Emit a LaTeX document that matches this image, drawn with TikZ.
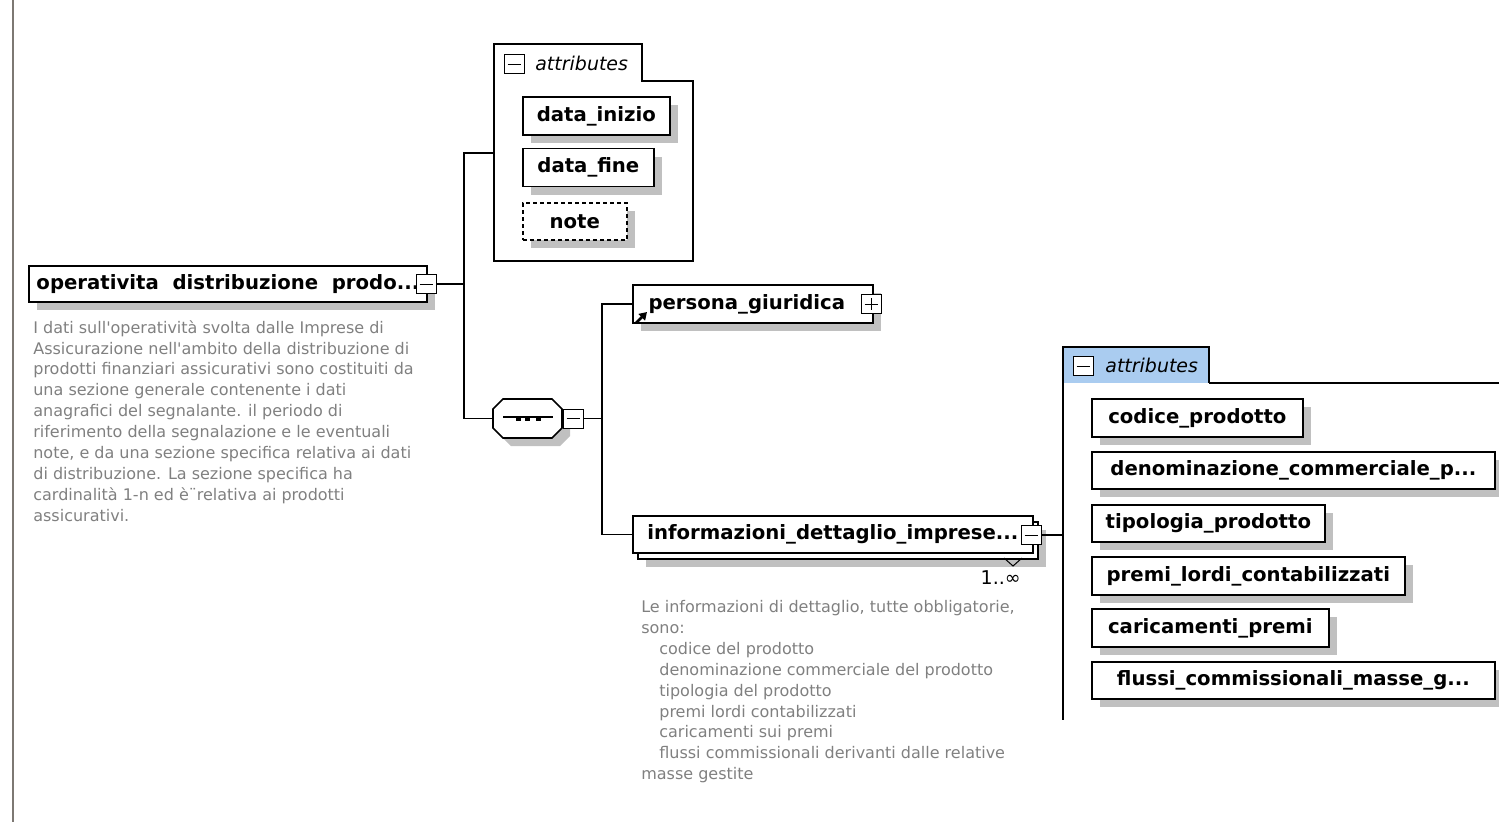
\documentclass[tikz,border=0pt]{standalone}
\usepackage{fontspec}
\setmainfont{DejaVu Sans}
\usetikzlibrary{shadows,arrows.meta}
\definecolor{tabblue}{RGB}{170,204,240}
\definecolor{docgray}{RGB}{128,128,128}
\definecolor{shadowgray}{RGB}{192,192,192}
\definecolor{rulegray}{RGB}{125,120,115}
\newcommand{\lblfont}{\fontsize{11.2}{13}\selectfont\bfseries}
\newcommand{\docfont}{\fontsize{9.1}{11.9}\selectfont}
\tikzset{
  conn/.style={line width=0.34mm},
  elbox/.style={draw, line width=0.34mm, fill=white, inner sep=0pt,
    minimum height=7.6mm, font=\lblfont,
    drop shadow={shadow xshift=1.6mm, shadow yshift=-1.6mm, fill=shadowgray, opacity=1}},
  optbox/.style={elbox, dash pattern=on 0.8mm off 0.6mm},
  expbox/.style={draw, line width=0.2mm, fill=white, minimum width=4mm,
    minimum height=3.8mm, inner sep=0pt},
  minusbox/.style={expbox, path picture={
    \draw[line width=0.2mm] ([xshift=0.7mm]path picture bounding box.west)
      -- ([xshift=-0.7mm]path picture bounding box.east);}},
  plusbox/.style={expbox, path picture={
    \draw[line width=0.2mm] ([xshift=0.7mm]path picture bounding box.west)
      -- ([xshift=-0.7mm]path picture bounding box.east);
    \draw[line width=0.2mm] ([yshift=-0.7mm]path picture bounding box.north)
      -- ([yshift=0.7mm]path picture bounding box.south);}},
  tablabel/.style={anchor=west, inner sep=0pt, font=\fontsize{10.8}{13}\selectfont\itshape},
  docnode/.style={text=docgray, font=\docfont, align=left, anchor=north west, inner sep=0pt},
}

\begin{document}
\begin{tikzpicture}[x=0.2mm,y=-0.2mm]
\useasboundingbox (0,0) rectangle (1499,822);
%%%%%%%%%%%%%%%%%%Left Margin Rule%%%%%%%%%%%%%%%%%%
\draw[rulegray, line width=0.4mm] (13,0) -- (13,822);

%%%%%%%%%%%%%%%%%%Root Element%%%%%%%%%%%%%%%%%%
\node[elbox, minimum width=79.6mm, minimum height=7.2mm, anchor=west] (root) at (28,284)
  {operativita\ \ distribuzione\ \ prodo...};
\node[minusbox] (rootexp) at (426,284) {};
\node[docnode] (rootdoc) at (33,320) {I dati sull\textquotesingle operatività svolta dalle Imprese di\\
Assicurazione nell\textquotesingle ambito della distribuzione di\\
prodotti finanziari assicurativi sono costituiti da\\
una sezione generale contenente i dati\\
anagrafici del segnalante. il periodo di\\
riferimento della segnalazione e le eventuali\\
note, e da una sezione specifica relativa ai dati\\
di distribuzione. La sezione specifica ha\\
cardinalità 1-n ed è¨relativa ai prodotti\\
assicurativi.};

%%%%%%%%%%%%%%%%%%First Attribute Group%%%%%%%%%%%%%%%%%%
\draw[line width=0.34mm] (494,44) -- (642,44) -- (642,81) -- (693,81) -- (693,261) -- (494,261) -- cycle;
\node[minusbox] (attrexp1) at (514,64) {};
\node[tablabel] (attrlbl1) at (535,63) {attributes};
\coordinate (attrin1) at (494,153);
\node[elbox, minimum width=29.4mm, anchor=west] (dinizio) at (522,116) {data\_inizio};
\node[elbox, minimum width=26.2mm, anchor=west] (dfine) at (522,167.5) {data\_fine};
\node[optbox, minimum width=20.8mm, minimum height=7.4mm, anchor=west] (note) at (522,221.5) {note};

%%%%%%%%%%%%%%%%%%Sequence Compositor%%%%%%%%%%%%%%%%%%
\draw[line width=0.34mm, fill=white,
  drop shadow={shadow xshift=1.6mm, shadow yshift=-1.6mm, fill=shadowgray, opacity=1}]
  (503,399) -- (552,399) -- (562,409) -- (562,428) -- (552,438) -- (503,438)
  -- (493,428) -- (493,409) -- cycle;
\node[minimum width=13.8mm, minimum height=7.8mm, inner sep=0pt] (seq) at (527.5,418.5) {};
\draw[line width=0.3mm] (503,417) -- (553,417);
\fill (516,418) rectangle (521,421);
\fill (525,418) rectangle (530,421);
\fill (536,418) rectangle (541,421);
\node[minusbox] (seqexp) at (573,418.5) {};

%%%%%%%%%%%%%%%%%%Child Elements%%%%%%%%%%%%%%%%%%
\node[elbox, minimum width=48mm, anchor=west] (persona) at (632,304) {persona\_giuridica\hspace*{2.4mm}};
\node[plusbox] (personaexp) at (871,304) {};
\draw[line width=0.55mm, -{Triangle[length=1.5mm, width=1.8mm]}] (636,323) -- (647,312);

\node[elbox, minimum width=80mm, minimum height=7.4mm, anchor=west] (infoback) at (637,540.5) {};
\node[draw, line width=0.34mm, fill=white, inner sep=0pt, minimum width=80mm,
  minimum height=7.4mm, font=\lblfont, anchor=west] (info) at (632,534.5)
  {informazioni\_dettaglio\_imprese...};
\node[minusbox] (infoexp) at (1031,535) {};
\draw[line width=0.2mm] (1004,558) -- (1013,566) -- (1022,558);
\node[anchor=east, inner sep=0pt, font=\fontsize{10.8}{13}\selectfont] (card) at (1021,578) {1..∞};
\node[docnode] (infodoc) at (641,600) {Le informazioni di dettaglio, tutte obbligatorie,\\
sono:\\
\hspace*{3.6mm}codice del prodotto\\
\hspace*{3.6mm}denominazione commerciale del prodotto\\
\hspace*{3.6mm}tipologia del prodotto\\
\hspace*{3.6mm}premi lordi contabilizzati\\
\hspace*{3.6mm}caricamenti sui premi\\
\hspace*{3.6mm}flussi commissionali derivanti dalle relative\\
masse gestite};

%%%%%%%%%%%%%%%%%%Second Attribute Group%%%%%%%%%%%%%%%%%%
\filldraw[fill=tabblue, line width=0.34mm] (1063,383) -- (1063,347) -- (1209,347) -- (1209,383);
\draw[line width=0.34mm] (1209,383) -- (1499,383);
\draw[line width=0.34mm] (1063,347) -- (1063,720);
\node[minusbox] (attrexp2) at (1083,366) {};
\node[tablabel] (attrlbl2) at (1105,365) {attributes};
\coordinate (attrin2) at (1063,535);
\node[elbox, minimum width=42.2mm, anchor=west] (codice) at (1091,418) {codice\_prodotto};
\node[elbox, minimum width=80.6mm, minimum height=7.4mm, anchor=west] (denom) at (1091,470.5) {denominazione\_commerciale\_p...};
\node[elbox, minimum width=46.6mm, minimum height=7.4mm, anchor=west] (tipologia) at (1091,523.5) {tipologia\_prodotto};
\node[elbox, minimum width=62.6mm, anchor=west] (premi) at (1091,576) {premi\_lordi\_contabilizzati};
\node[elbox, minimum width=47.4mm, anchor=west] (caricamenti) at (1091,628) {caricamenti\_premi};
\node[elbox, minimum width=80.6mm, minimum height=7.4mm, anchor=west] (flussi) at (1091,680.5) {flussi\_commissionali\_masse\_g...};

%%%%%%%%%%%%%%%%%%Connectors%%%%%%%%%%%%%%%%%%
\coordinate (fork1) at (464,284);
\draw[conn] (rootexp.east) -- (fork1);
\draw[conn] (attrin1) -| (fork1) |- (seq.west);
\coordinate (fork2) at (602,418.5);
\draw[conn] (seqexp.east) -- (fork2);
\draw[conn] (persona.west) -| (fork2) |- (info.west);
\draw[conn] (infoexp.east) -- (attrin2);

\end{tikzpicture}
\end{document}
